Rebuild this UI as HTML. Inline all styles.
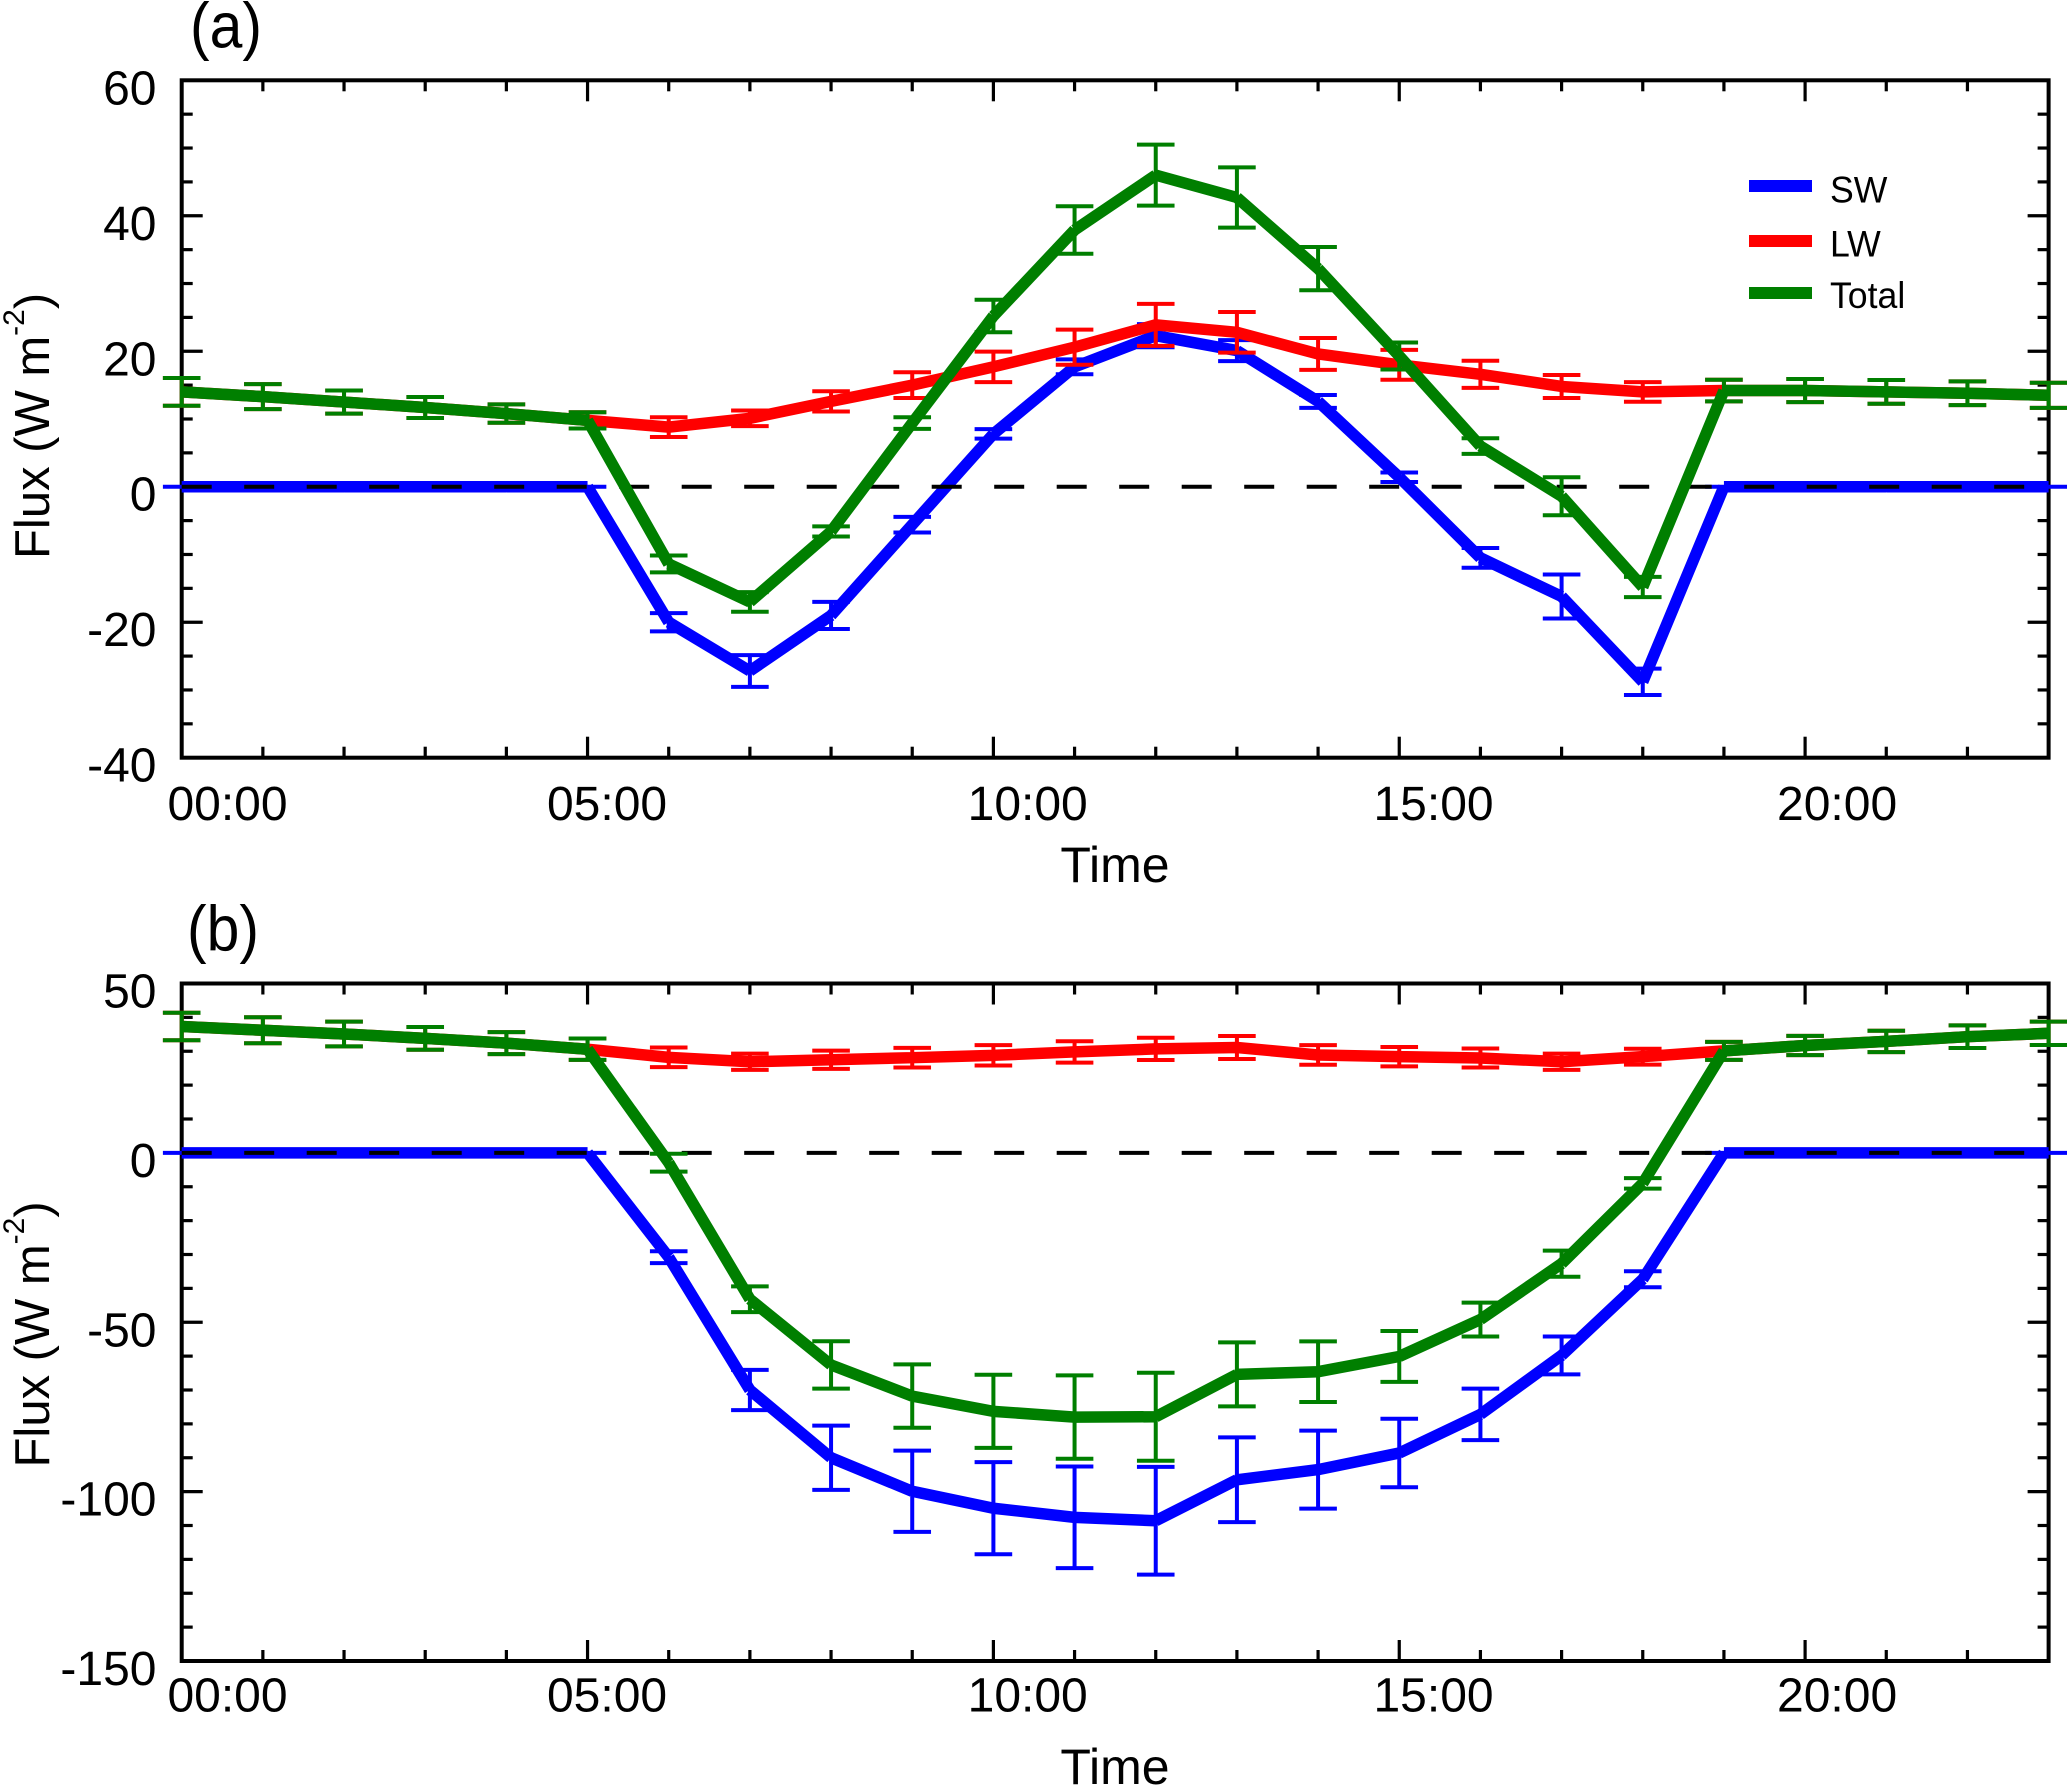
<!DOCTYPE html>
<html lang="en">
<head>
<meta charset="utf-8">
<title>Flux diurnal cycle</title>
<style>
html,body{margin:0;padding:0;background:#fff;width:2067px;height:1786px;overflow:hidden}
svg{display:block}
text{font-family:"Liberation Sans",Arial,sans-serif;fill:#000}
</style>
</head>
<body>
<svg id="figure" xmlns="http://www.w3.org/2000/svg" width="2067" height="1786" viewBox="0 0 2067 1786">
  <rect x="0" y="0" width="2067" height="1786" fill="#fff"/>
  <g id="panel-a"></g>
  <g id="panel-b"></g>

  <text transform="translate(190,47.5) scale(.92,1)" font-size="64">(a)</text>
  <text transform="translate(187,950.6) scale(.92,1)" font-size="64">(b)</text>

  <text transform="translate(49,559) rotate(-90)" font-size="49">Flux (W m<tspan font-size="30" dy="-25">-2</tspan><tspan dy="25">)</tspan></text>
  <text transform="translate(49,1467.5) rotate(-90)" font-size="49">Flux (W m<tspan font-size="30" dy="-25">-2</tspan><tspan dy="25">)</tspan></text>

  <text x="1115" y="882" font-size="50" text-anchor="middle">Time</text>
  <text x="1115" y="1784" font-size="50" text-anchor="middle">Time</text>

  <g>
    <rect x="1749" y="180" width="63" height="12" fill="#0000ff"/>
    <text transform="translate(1830,202.7) scale(.95,1)" font-size="37.5">SW</text>
    <rect x="1749" y="235" width="63" height="12" fill="#ff0000"/>
    <text transform="translate(1830,256.7) scale(.95,1)" font-size="37.5">LW</text>
    <rect x="1749" y="287" width="63" height="12" fill="#007f00"/>
    <text transform="translate(1830,308) scale(.95,1)" font-size="37.5">Total</text>
  </g>
</svg>

<script>
// ---------- shared categories and tick labels ----------
const hours = [0,1,2,3,4,5,6,7,8,9,10,11,12,13,14,15,16,17,18,19,20,21,22,23];
const xMajorHours = [0,5,10,15,20];
const xTickLabels = ['00:00','05:00','10:00','15:00','20:00'];

// ---------- panel (a) values ----------
const aSW     = [0,0,0,0,0,0,-20,-27.2,-19,-5.6,7.8,17.7,22.3,20.1,12.6,1.4,-10.5,-16.2,-28.8,0,0,0,0,0];
const aSWerr  = [0,0,0,0,0,0,1.35,2.35,2,1.15,0.7,1.1,1.7,1.55,0.95,0.7,1.45,3.25,1.95,0,0,0,0,0];
const aLW     = [14,13.3,12.5,11.7,10.8,9.8,8.8,10.1,12.6,15,17.7,20.6,23.9,22.8,19.6,18,16.6,14.8,14,14.2,14.2,14,13.8,13.5];
const aLWerr  = [2.05,1.85,1.7,1.55,1.35,1.2,1.45,1.15,1.5,1.9,2.25,2.6,3.1,3,2.35,2.2,2,1.7,1.45,1.6,1.7,1.75,1.75,1.85];
const aTot    = [14,13.3,12.5,11.7,10.8,9.8,-11.4,-17,-6.6,9.4,25.2,37.9,46,42.7,32.2,19.3,6,-1.4,-14.8,14.2,14.2,14,13.8,13.5];
const aToterr = [2.05,1.85,1.7,1.55,1.35,1.2,1.25,1.45,0.75,0.85,2.4,3.5,4.5,4.45,3.2,2,1.15,2.8,1.5,1.6,1.7,1.75,1.75,1.85];
const aYMajor = [60,40,20,0,-20,-40];

// ---------- panel (b) values ----------
const bSW     = [0,0,0,0,0,0,-30.8,-70,-90,-99.9,-104.9,-107.6,-108.6,-96.5,-93.5,-88.6,-77.2,-59.8,-37.3,0,0,0,0,0];
const bSWerr  = [0,0,0,0,0,0,1.75,5.95,9.5,12,13.6,15,15.9,12.5,11.5,10.1,7.6,5.6,2.35,0,0,0,0,0];
const bLW     = [37.3,36.2,35.1,33.8,32.4,30.6,28.2,26.9,27.5,28.1,28.8,29.8,30.7,31.1,28.9,28.4,28,26.9,28.4,30.1,31.7,32.9,34.3,35.3];
const bLWerr  = [4.05,3.85,3.65,3.35,3.25,3.15,2.9,2.4,2.7,2.9,3,3.15,3.3,3.4,2.9,2.85,2.8,2.4,2.35,2.65,2.85,3.15,3.35,3.45];
const bTot    = [37.3,36.2,35.1,33.8,32.4,30.6,-2.9,-43.2,-62.6,-71.8,-76.3,-78,-77.9,-65.4,-64.6,-60.1,-49.2,-32.7,-9,30.1,31.7,32.9,34.3,35.3];
const bToterr = [4.05,3.85,3.65,3.35,3.25,3.15,2.65,3.8,7,9.35,10.8,12.3,13,9.45,8.95,7.5,5,3.85,1.55,2.65,2.85,3.15,3.35,3.45];
const bYMajor = [50,0,-50,-100,-150];

// ---------- layout ----------
const SVGNS = 'http://www.w3.org/2000/svg';
const plotLeft = 181.7, hourPx = 81.17;
const plotRight = plotLeft + hourPx * 23;
const capHalf = 18.8;
const labelNudge = [45.8, 19.5, 34.3, 34.3, 32];
const xScale = h => plotLeft + h * hourPx;

function makeScale(vTop, yTop, vBottom, yBottom) {
  return v => yTop + (vTop - v) * (yBottom - yTop) / (vTop - vBottom);
}

function mk(tag, attrs, parent) {
  const node = document.createElementNS(SVGNS, tag);
  for (const k in attrs) node.setAttribute(k, attrs[k]);
  parent.appendChild(node);
  return node;
}

function drawAxes(root, yScale, yTop, yBottom, yMajor, minorStep, labelBaseline) {
  const axes = mk('g', {}, root);
  
  

  const frame = mk('rect', {x: plotLeft, y: yTop, width: plotRight - plotLeft, height: yBottom - yTop, fill: 'none', stroke: '#000', 'stroke-width': 4}, axes);
  
  

  hours.forEach(h => {
    if (h === 0 || h === 23) return;
    const len = xMajorHours.includes(h) ? 21 : 11;
    const x = xScale(h);
    const bottomTick = mk('line', {x1: x, x2: x, y1: yBottom, y2: yBottom - len, stroke: '#000', 'stroke-width': 3.2}, axes);
    
    
    const topTick = mk('line', {x1: x, x2: x, y1: yTop, y2: yTop + len, stroke: '#000', 'stroke-width': 3.2}, axes);
    
    
  });

  const vMax = yMajor[0], vMin = yMajor[yMajor.length - 1];
  for (let v = vMin; v <= vMax; v += minorStep) {
    const len = yMajor.includes(v) ? 21 : 11;
    const y = yScale(v);
    const leftTick = mk('line', {x1: plotLeft, x2: plotLeft + len, y1: y, y2: y, stroke: '#000', 'stroke-width': 3.2}, axes);
    
    
    const rightTick = mk('line', {x1: plotRight, x2: plotRight - len, y1: y, y2: y, stroke: '#000', 'stroke-width': 3.2}, axes);
    
    
  }

  yMajor.forEach(v => {
    const t = mk('text', {x: 156.5, y: yScale(v) + 24, 'font-size': 48, 'text-anchor': 'end'}, axes);
    t.textContent = String(v);
    
    
  });

  xTickLabels.forEach((label, i) => {
    const t = mk('text', {x: xScale(xMajorHours[i]) + labelNudge[i], y: labelBaseline, 'font-size': 48, 'text-anchor': 'middle'}, axes);
    t.textContent = label;
    
    
  });
}

function drawSeries(root, yScale, values, errs, color, name) {
  const g = mk('g', {}, root);
  
  

  hours.forEach((h, i) => {
    const x = xScale(h), hi = yScale(values[i] + errs[i]), lo = yScale(values[i] - errs[i]);
    const d = 'M' + x + ' ' + hi + 'L' + x + ' ' + lo +
              'M' + (x - capHalf) + ' ' + hi + 'L' + (x + capHalf) + ' ' + hi +
              'M' + (x - capHalf) + ' ' + lo + 'L' + (x + capHalf) + ' ' + lo;
    const bar = mk('path', {d: d, fill: 'none', stroke: color, 'stroke-width': 4}, g);
    
    
  });

  let d = '';
  for (let i = 0; i < hours.length - 1; i++) {
    d += 'M' + xScale(hours[i]) + ' ' + yScale(values[i]) + 'L' + xScale(hours[i + 1]) + ' ' + yScale(values[i + 1]);
  }
  const path = mk('path', {d: d, fill: 'none', stroke: color, 'stroke-width': 11.5, 'stroke-linecap': 'butt'}, g);
  
  
}

function drawZeroLine(root, yScale) {
  const y = yScale(0);
  const zero = mk('line', {x1: plotLeft, x2: plotRight, y1: y, y2: y, stroke: '#000', 'stroke-width': 4, 'stroke-dasharray': '30 32.5'}, root);
  
  
}

function drawPanel(root, cfg) {
  const yScale = makeScale(cfg.yMajor[0], cfg.yTop, cfg.yMajor[cfg.yMajor.length - 1], cfg.yBottom);
  drawAxes(root, yScale, cfg.yTop, cfg.yBottom, cfg.yMajor, cfg.minorStep, cfg.labelBaseline);
  drawSeries(root, yScale, cfg.sw, cfg.swErr, '#0000ff', 'sw');
  drawZeroLine(root, yScale);
  drawSeries(root, yScale, cfg.lw, cfg.lwErr, '#ff0000', 'lw');
  drawSeries(root, yScale, cfg.tot, cfg.totErr, '#007f00', 'total');
}

drawPanel(document.getElementById('panel-a'), {
  yTop: 80.3, yBottom: 757.7, yMajor: aYMajor, minorStep: 5, labelBaseline: 820,
  sw: aSW, swErr: aSWerr, lw: aLW, lwErr: aLWerr, tot: aTot, totErr: aToterr
});
drawPanel(document.getElementById('panel-b'), {
  yTop: 983.5, yBottom: 1661, yMajor: bYMajor, minorStep: 10, labelBaseline: 1711.7,
  sw: bSW, swErr: bSWerr, lw: bLW, lwErr: bLWerr, tot: bTot, totErr: bToterr
});
</script>
</body>
</html>
